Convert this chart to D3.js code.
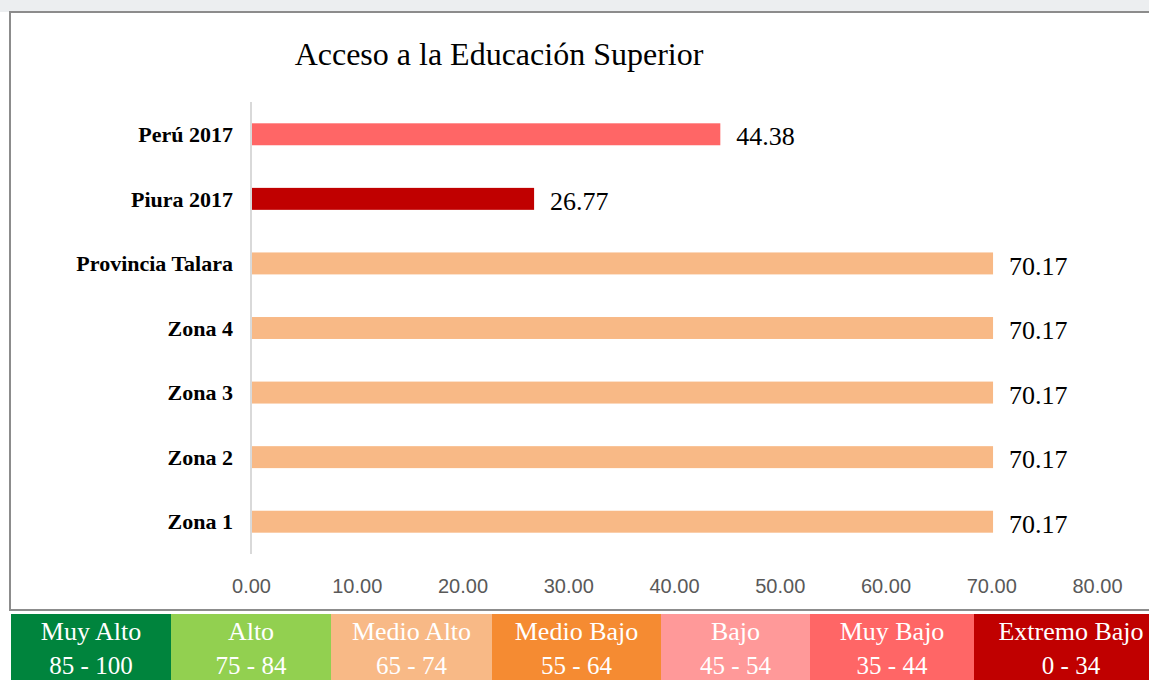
<!DOCTYPE html>
<html>
<head>
<meta charset="utf-8">
<script src="https://cdn.jsdelivr.net/npm/d3@7"></script>
<style>
  body { margin: 0; background: #fff; }
  svg { display: block; }
</style>
</head>
<body>
<div id="chart"></div>
<script>
var categories = ["Perú 2017", "Piura 2017", "Provincia Talara", "Zona 4", "Zona 3", "Zona 2", "Zona 1"];
var values = [44.38, 26.77, 70.17, 70.17, 70.17, 70.17, 70.17];
var barColors = ["#ff6666", "#c00000", "#f8b986", "#f8b986", "#f8b986", "#f8b986", "#f8b986"];
var xTicks = [0, 10, 20, 30, 40, 50, 60, 70, 80];

var legendNames = ["Muy Alto", "Alto", "Medio Alto", "Medio Bajo", "Bajo", "Muy Bajo", "Extremo Bajo"];
var legendRanges = ["85 - 100", "75 - 84", "65 - 74", "55 - 64", "45 - 54", "35 - 44", "0 - 34"];
var legendColors = ["#00843d", "#92d050", "#f8b986", "#f58b32", "#ff9999", "#ff6666", "#c00000"];
var legendEdges = [11, 171, 331, 492, 661, 810, 974, 1168];

var width = 1149, height = 680;
var serif = "'Liberation Serif', 'Times New Roman', serif";

var svg = d3.select("#chart").append("svg")
    .attr("width", width)
    .attr("height", height);

// faint strip on top (page background behind the chart)
svg.append("rect")
    .attr("x", 0).attr("y", 0).attr("width", width).attr("height", 12)
    .attr("fill", "#eceef0");

// chart frame
svg.append("rect")
    .attr("x", 10).attr("y", 12).attr("width", width + 10).attr("height", 598)
    .attr("fill", "#fff")
    .attr("stroke", "#8c8c8c")
    .attr("stroke-width", 2);

svg.append("text")
    .attr("x", 499).attr("y", 65)
    .attr("text-anchor", "middle")
    .attr("font-family", serif)
    .attr("font-size", 32)
    .attr("fill", "#000")
    .text("Acceso a la Educación Superior");

var x = d3.scaleLinear().domain([0, 80]).range([251, 1097]);
var y = d3.scaleBand().domain(categories).range([102, 554])
    .paddingInner(0.66).paddingOuter(0.33);

// x tick labels
var xAxis = svg.append("g")
    .attr("transform", "translate(0,585)")
    .call(d3.axisBottom(x).tickValues(xTicks).tickFormat(d3.format(".2f")).tickSize(0));
xAxis.select(".domain").remove();
xAxis.selectAll("text")
    .attr("dy", 0)
    .attr("y", 8)
    .attr("font-family", "'Liberation Sans', Arial, sans-serif")
    .attr("font-size", 20)
    .attr("fill", "#595959");

// bars
svg.selectAll("rect.bar")
    .data(values)
    .enter().append("rect")
    .classed("bar", true)
    .attr("x", x(0))
    .attr("y", function(d, i) { return y(categories[i]); })
    .attr("width", function(d) { return x(d) - x(0); })
    .attr("height", y.bandwidth())
    .attr("fill", function(d, i) { return barColors[i]; });

// vertical axis line
svg.append("line")
    .attr("x1", x(0)).attr("x2", x(0))
    .attr("y1", 102).attr("y2", 554)
    .attr("stroke", "#d9d9d9")
    .attr("stroke-width", 2);

// category labels
svg.selectAll("text.cat")
    .data(categories)
    .enter().append("text")
    .classed("cat", true)
    .attr("x", 233)
    .attr("y", function(d) { return y(d) + y.bandwidth() / 2; })
    .attr("dy", "0.35em")
    .attr("text-anchor", "end")
    .attr("font-family", serif)
    .attr("font-weight", "bold")
    .attr("font-size", 22)
    .attr("fill", "#000")
    .text(function(d) { return d; });

// value labels
svg.selectAll("text.val")
    .data(values)
    .enter().append("text")
    .classed("val", true)
    .attr("x", function(d) { return x(d) + 16; })
    .attr("y", function(d, i) { return y(categories[i]) + y.bandwidth() / 2 + 2; })
    .attr("dy", "0.35em")
    .attr("font-family", serif)
    .attr("font-size", 26)
    .attr("fill", "#000")
    .text(function(d) { return d.toFixed(2); });

// legend strip
var leg = svg.selectAll("g.leg")
    .data(legendNames)
    .enter().append("g")
    .classed("leg", true);

leg.append("rect")
    .attr("x", function(d, i) { return legendEdges[i]; })
    .attr("y", 614)
    .attr("width", function(d, i) { return legendEdges[i + 1] - legendEdges[i]; })
    .attr("height", 70)
    .attr("fill", function(d, i) { return legendColors[i]; });

leg.append("text")
    .attr("x", function(d, i) { return (legendEdges[i] + legendEdges[i + 1]) / 2; })
    .attr("y", 640)
    .attr("text-anchor", "middle")
    .attr("font-family", serif)
    .attr("font-size", 26)
    .attr("fill", "#fff")
    .text(function(d) { return d; });

leg.append("text")
    .attr("x", function(d, i) { return (legendEdges[i] + legendEdges[i + 1]) / 2; })
    .attr("y", 674)
    .attr("text-anchor", "middle")
    .attr("font-family", serif)
    .attr("font-size", 25)
    .attr("fill", "#fff")
    .text(function(d, i) { return legendRanges[i]; });
</script>
</body>
</html>
